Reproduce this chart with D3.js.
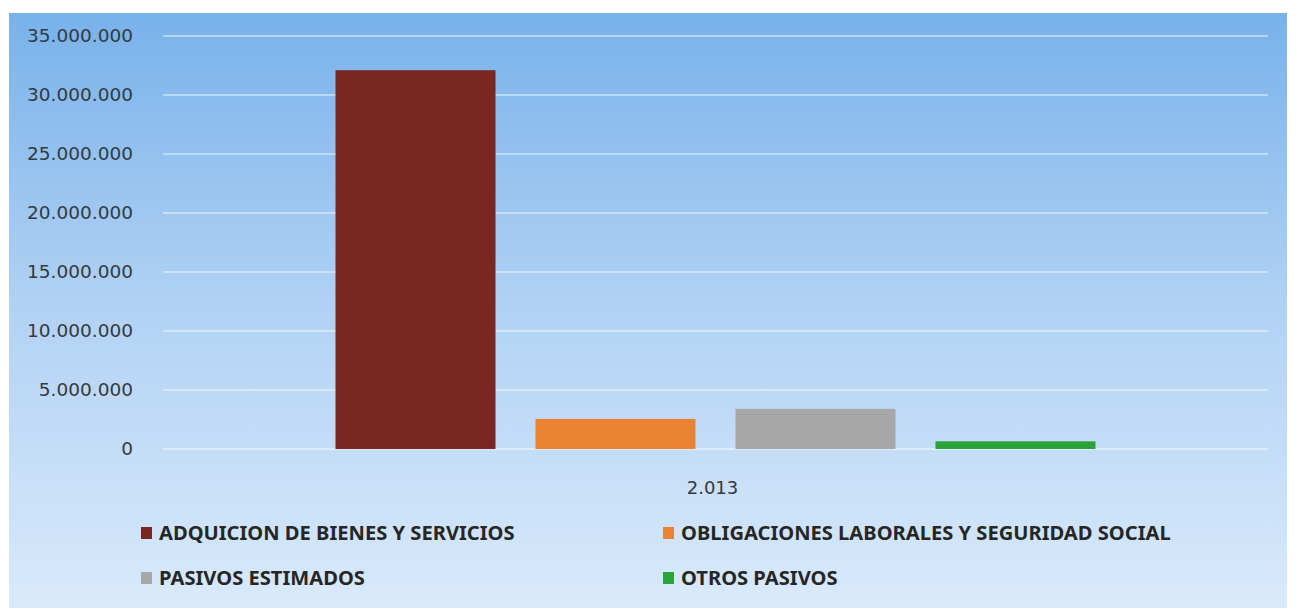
<!DOCTYPE html>
<html lang="es">
  <head>
    <meta charset="UTF-8" />
    <title>Pasivos 2013</title>
    <script src="https://cdn.jsdelivr.net/npm/d3@7/dist/d3.min.js"></script>
    <style>
      body { margin: 0; background: #fff; }
    </style>
  </head>
  <body>
    <svg width="1298" height="613"></svg>
  </body>
  <script>
    // datos
    var categories = ["2.013"];
    var series = [
      "ADQUICION DE BIENES Y SERVICIOS",
      "OBLIGACIONES LABORALES Y SEGURIDAD SOCIAL",
      "PASIVOS ESTIMADOS",
      "OTROS PASIVOS"
    ];
    var values = [32100000, 2550000, 3400000, 650000];
    var colors = ["#7a2622", "#ea8331", "#a7a7a7", "#2ba33b"];
    var yTicks = [0, 5000000, 10000000, 15000000, 20000000, 25000000, 30000000, 35000000];

    var svg = d3.select("svg");

    var locale = d3.formatLocale({ decimal: ",", thousands: ".", grouping: [3], currency: ["", ""] });
    var fmt = locale.format(",");

    // fondo degradado
    var grad = svg.append("defs").append("linearGradient")
      .attr("id", "bg").attr("x1", 0).attr("y1", 0).attr("x2", 0).attr("y2", 1);
    grad.append("stop").attr("offset", "0%").attr("stop-color", "#78b2ea");
    grad.append("stop").attr("offset", "50%").attr("stop-color", "#b2d2f4");
    grad.append("stop").attr("offset", "100%").attr("stop-color", "#d9eafb");

    svg.append("rect")
      .attr("x", 9).attr("y", 13)
      .attr("width", 1278).attr("height", 595)
      .attr("fill", "url(#bg)");

    var x0 = d3.scaleBand().domain(categories).range([163, 1268]).paddingOuter(0.227);
    var x1 = d3.scaleBand().domain(series).range([0, x0.bandwidth()]).paddingInner(0.2);
    var y = d3.scaleLinear().domain([0, 35000000]).range([449, 36]);

    // lineas de cuadricula
    svg.append("g")
      .selectAll("line")
      .data(yTicks)
      .enter()
      .append("line")
      .attr("x1", 163).attr("x2", 1268)
      .attr("y1", (d) => y(d)).attr("y2", (d) => y(d))
      .attr("stroke", "#ffffff")
      .attr("stroke-opacity", 0.42)
      .attr("stroke-width", 2);

    var yAxis = d3.axisLeft(y).tickValues(yTicks).tickFormat(fmt).tickSize(0).tickPadding(0);
    var gy = svg.append("g").attr("transform", "translate(133,0)").call(yAxis);
    gy.select(".domain").remove();
    gy.selectAll("text")
      .style("font-family", "DejaVu Sans, sans-serif")
      .style("font-size", "18.5px")
      .attr("fill", "#333a40");

    // barras
    svg.append("g")
      .selectAll("rect")
      .data(series.map((s, i) => ({ s: s, v: values[i], c: colors[i] })))
      .enter()
      .append("rect")
      .attr("x", (d) => x0(categories[0]) + x1(d.s))
      .attr("y", (d) => y(d.v))
      .attr("width", x1.bandwidth())
      .attr("height", (d) => y(0) - y(d.v))
      .attr("fill", (d) => d.c);

    var xAxis = d3.axisBottom(x0).tickSize(0).tickPadding(0);
    var gx = svg.append("g").attr("transform", "translate(-3,494)").call(xAxis);
    gx.select(".domain").remove();
    gx.selectAll("text")
      .attr("dy", 0)
      .style("font-family", "DejaVu Sans, sans-serif")
      .style("font-size", "18px")
      .attr("fill", "#333a40");

    // leyenda
    var legX = [141, 663];
    var legY = [533, 578];
    var leg = svg.append("g")
      .selectAll("g")
      .data(series)
      .enter()
      .append("g")
      .attr("transform", (d, i) => "translate(" + legX[i % 2] + "," + legY[Math.floor(i / 2)] + ")");
    leg.append("rect")
      .attr("x", 0).attr("y", -6)
      .attr("width", 11).attr("height", 12)
      .attr("fill", (d, i) => colors[i]);
    leg.append("text")
      .attr("transform", "translate(18,7) scale(1.06,1)")
      .text((d) => d)
      .style("font-family", "Noto Sans, sans-serif")
      .style("font-weight", "bold")
      .style("font-size", "19px")
      .attr("fill", "#262626");
  </script>
</html>
